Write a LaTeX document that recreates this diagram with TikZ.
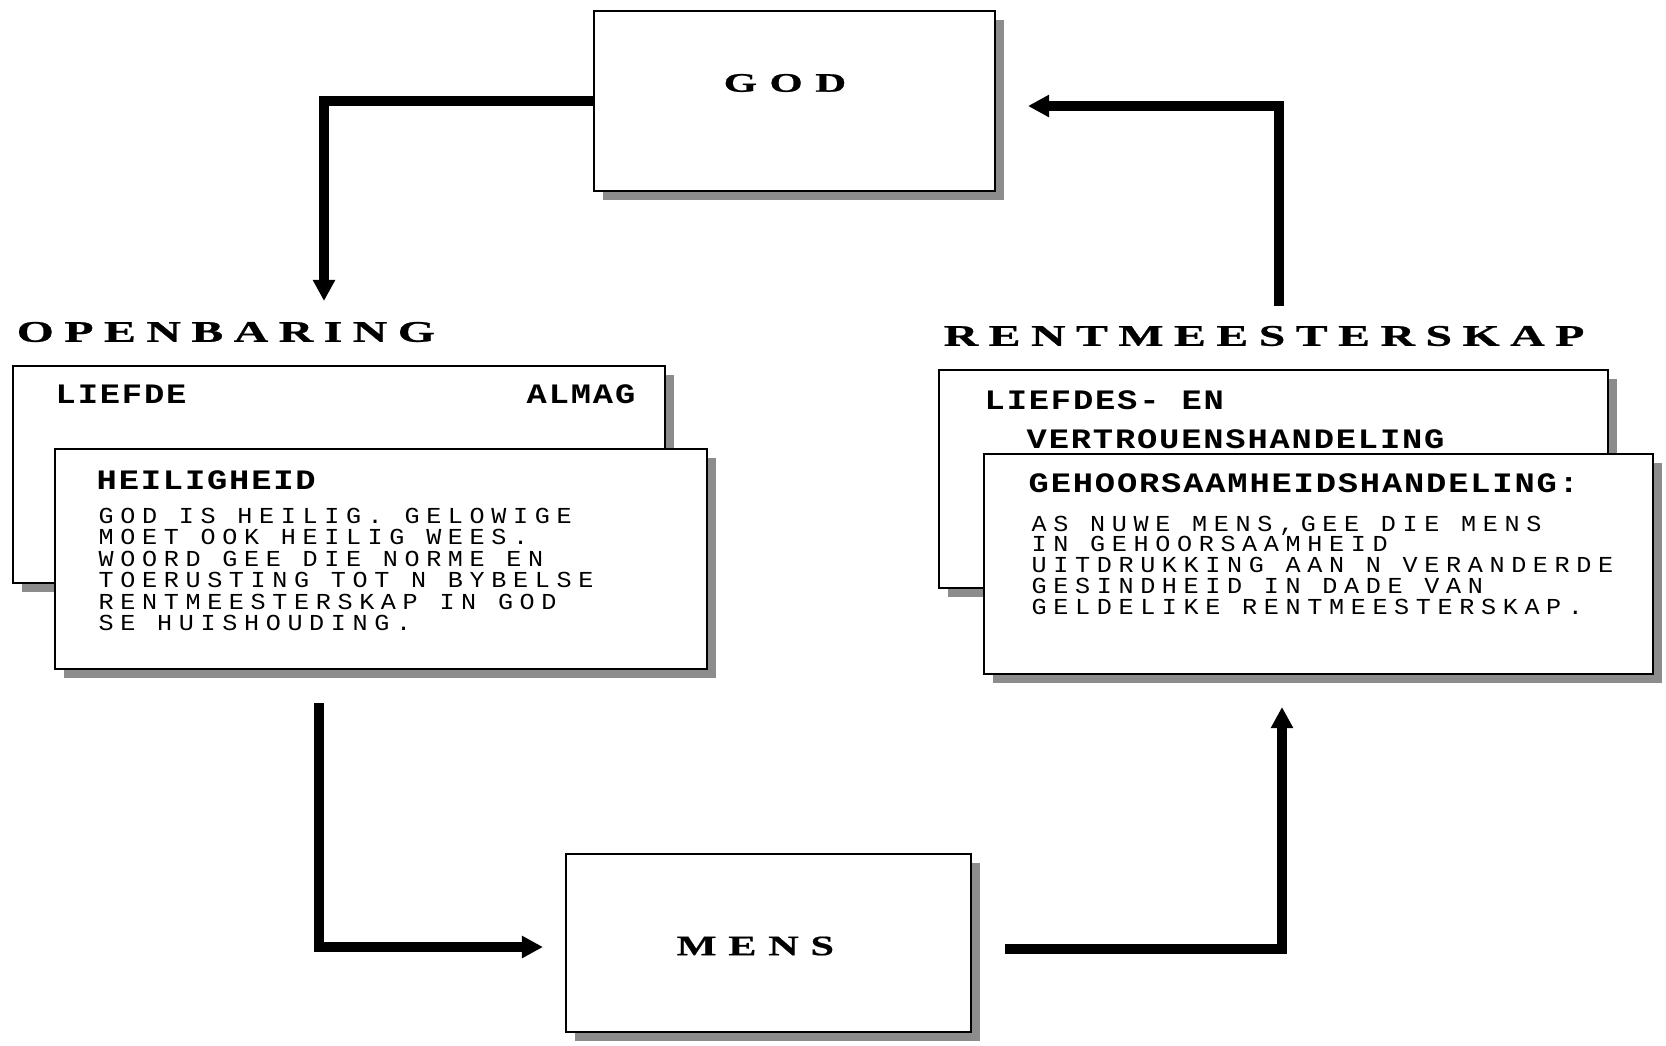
\documentclass[tikz,border=0pt]{standalone}
\usepackage{fontspec}
\usetikzlibrary{arrows.meta, shadows}
\newfontfamily\headfont{Liberation Serif}[FakeStretch=1.6, FakeBold=0.8, LetterSpace=35]
\newfontfamily\godfont{Liberation Serif}[FakeStretch=1.6, FakeBold=0.8, LetterSpace=47]
\newfontfamily\mensfont{Liberation Serif}[FakeStretch=1.5, FakeBold=0.6, LetterSpace=42]
\newfontfamily\labelfont{Liberation Mono}[FakeStretch=1.2, LetterSpace=6.5]
\newfontfamily\bodyfont{Liberation Mono}[FakeStretch=1.1, LetterSpace=29]
\tikzstyle{box}=[draw, fill=white, line width=0.6pt, inner sep=0pt, outer sep=0pt, drop shadow={shadow xshift=2.6pt, shadow yshift=-2.6pt, fill=black!45, opacity=1}]
\tikzstyle{heading}=[inner sep=0pt, anchor=west, font=\headfont\bfseries\fontsize{8.5pt}{8.5pt}\selectfont]
\tikzstyle{lbl}=[inner sep=0pt, anchor=west, font=\labelfont\bfseries\fontsize{8pt}{8pt}\selectfont]
\tikzstyle{body}=[inner sep=0pt, anchor=north west, align=left, font=\bodyfont\fontsize{6.5pt}{6.12pt}\selectfont]
\tikzstyle{flow}=[line width=2.8pt, ->]
\tikzset{>={Triangle[width=6pt,length=6pt]}}

\begin{document}
\begin{tikzpicture}[x=0.01cm, y=-0.01cm]
\path[use as bounding box, fill=white] (0,0) rectangle (1666,1045);
% the two single boxes
\node[box, minimum width=4.01cm, minimum height=1.80cm] (god) at (794.5,101) {};
\node[heading, font=\godfont\bfseries\fontsize{7.6pt}{7.6pt}\selectfont] (godlbl) at (723,83) {GOD};
\node[box, minimum width=4.05cm, minimum height=1.78cm] (mens) at (768.5,943) {};
\node[heading, font=\mensfont\bfseries\fontsize{8pt}{8pt}\selectfont] (menslbl) at (676,946) {MENS};
% the two headings
\node[heading] (rev) at (16,332) {OPENBARING};
\node[heading] (stew) at (943,336) {RENTMEESTERSKAP};
% the left stack
\node[box, minimum width=6.52cm, minimum height=2.17cm] (revback) at (339,474.5) {};
\node[lbl] (liefde) at (55,394) {LIEFDE};
\node[lbl] (almag) at (526,394) {ALMAG};
\node[box, minimum width=6.52cm, minimum height=2.20cm] (revfront) at (381,559) {};
\node[lbl] (heilig) at (96,480) {HEILIGHEID};
\node[body] (heiligtxt) at (98,507) {GOD IS HEILIG. GELOWIGE\\MOET OOK HEILIG WEES.\\WOORD GEE DIE NORME EN\\TOERUSTING TOT N BYBELSE\\RENTMEESTERSKAP IN GOD\\SE HUISHOUDING.};
% the right stack
\node[box, minimum width=6.69cm, minimum height=2.18cm] (stewback) at (1273.5,479) {};
\node[lbl] (liefdes) at (984,400) {LIEFDES- EN};
\node[lbl] (vertrou) at (1026,439) {VERTROUENSHANDELING};
\node[box, minimum width=6.69cm, minimum height=2.20cm] (stewfront) at (1318.5,564) {};
\node[lbl] (gehoor) at (1028,483) {GEHOORSAAMHEIDSHANDELING:};
\node[body, font=\bodyfont\fontsize{6.5pt}{5.97pt}\selectfont] (gehoortxt) at (1031,515) {AS NUWE MENS,GEE DIE MENS\\IN GEHOORSAAMHEID\\UITDRUKKING AAN N VERANDERDE\\GESINDHEID IN DADE VAN\\GELDELIKE RENTMEESTERSKAP.};
% the arrows
\coordinate (revtop) at (324,301);
\coordinate (stewtop) at (1279,306);
\coordinate (godin) at (1028,106);
\coordinate (revbot) at (319,703);
\coordinate (mensin) at (543,947);
\coordinate (mensout) at (1005,949);
\coordinate (stewbot) at (1282,707);
\draw[flow] (god.west) -| (revtop);
\draw[flow] (stewtop) |- (godin);
\draw[flow] (revbot) |- (mensin);
\draw[flow] (mensout) -| (stewbot);
\end{tikzpicture}
\end{document}
